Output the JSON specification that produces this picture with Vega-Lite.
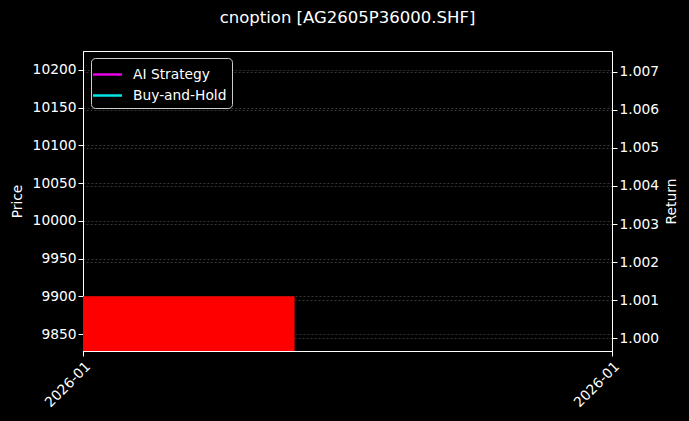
{
  "$schema": "https://vega.github.io/schema/vega-lite/v6.json",
  "autosize": {"type": "none"},
  "padding": {"left": 83, "top": 51, "right": 77, "bottom": 70},
  "width": 529,
  "height": 300,
  "background": "#000000",
  "title": {
    "text": "cnoption [AG2605P36000.SHF]",
    "color": "#ffffff",
    "font": "DejaVu Sans",
    "fontSize": 16.5,
    "fontWeight": "normal",
    "anchor": "middle",
    "offset": 25
  },
  "config": {
    "font": "DejaVu Sans",
    "view": {"stroke": "#ffffff", "strokeWidth": 1},
    "axis": {
      "domainColor": "#ffffff",
      "tickColor": "#ffffff",
      "tickSize": 5,
      "labelColor": "#ffffff",
      "labelFont": "DejaVu Sans",
      "labelFontSize": 13.8,
      "titleColor": "#ffffff",
      "titleFont": "DejaVu Sans",
      "titleFontSize": 13.8,
      "titleFontWeight": "normal",
      "gridColor": "#5a5a5a",
      "gridDash": [2, 2],
      "gridWidth": 0.6
    }
  },
  "datasets": {
    "candles": [
      {"start": "2026-01-05T00:00:00", "end": "2026-01-05T09:36:00", "open": 9900, "close": 9800}
    ],
    "equity": [
      {"date": "2026-01-05T00:00:00", "series": "AI Strategy", "return": 1.0},
      {"date": "2026-01-05T00:00:00", "series": "Buy-and-Hold", "return": 1.0}
    ]
  },
  "layer": [
    {
      "data": {"name": "candles"},
      "mark": {"type": "bar", "color": "#ff0000", "clip": true},
      "encoding": {
        "x": {
          "field": "start",
          "type": "temporal",
          "scale": {"domain": ["2026-01-05T00:00:00", "2026-01-06T00:00:00"]},
          "axis": {
            "title": null,
            "grid": false,
            "format": "%Y-%m",
            "values": [
              {"year": 2026, "month": 1, "date": 5},
              {"year": 2026, "month": 1, "date": 6}
            ],
            "labelAngle": 315,
            "labelAlign": "right",
            "labelBaseline": "top",
            "labelPadding": 3
          }
        },
        "x2": {"field": "end"},
        "y": {
          "field": "open",
          "type": "quantitative",
          "scale": {"domain": [9827.5, 10225], "nice": false, "zero": false},
          "axis": {
            "title": "Price",
            "titlePadding": 8,
            "values": [9850, 9900, 9950, 10000, 10050, 10100, 10150, 10200],
            "format": "d",
            "grid": true
          }
        },
        "y2": {"field": "close"}
      }
    },
    {
      "data": {"name": "equity"},
      "mark": {"type": "line", "strokeWidth": 2.5},
      "encoding": {
        "x": {"field": "date", "type": "temporal"},
        "y": {
          "field": "return",
          "type": "quantitative",
          "scale": {"domain": [0.99966, 1.00755], "nice": false, "zero": false},
          "axis": {
            "orient": "right",
            "title": "Return",
            "titleAngle": 270,
            "titleBaseline": "top",
            "titlePadding": 6,
            "values": [1.0, 1.001, 1.002, 1.003, 1.004, 1.005, 1.006, 1.007],
            "format": ".3f",
            "grid": true
          }
        },
        "color": {
          "field": "series",
          "type": "nominal",
          "scale": {"domain": ["AI Strategy", "Buy-and-Hold"], "range": ["#e600e6", "#00e6e6"]},
          "legend": {
            "title": null,
            "orient": "none",
            "legendX": 8,
            "legendY": 7,
            "symbolType": "M-1.45,0H1.45",
            "symbolSize": 400,
            "symbolStrokeWidth": 2.5,
            "labelColor": "#ffffff",
            "labelFont": "DejaVu Sans",
            "labelFontSize": 13.8,
            "labelOffset": 14,
            "rowPadding": 2,
            "padding": 5,
            "strokeColor": "#cccccc",
            "fillColor": "#000000",
            "cornerRadius": 4
          }
        }
      }
    }
  ],
  "resolve": {"scale": {"y": "independent"}}
}
